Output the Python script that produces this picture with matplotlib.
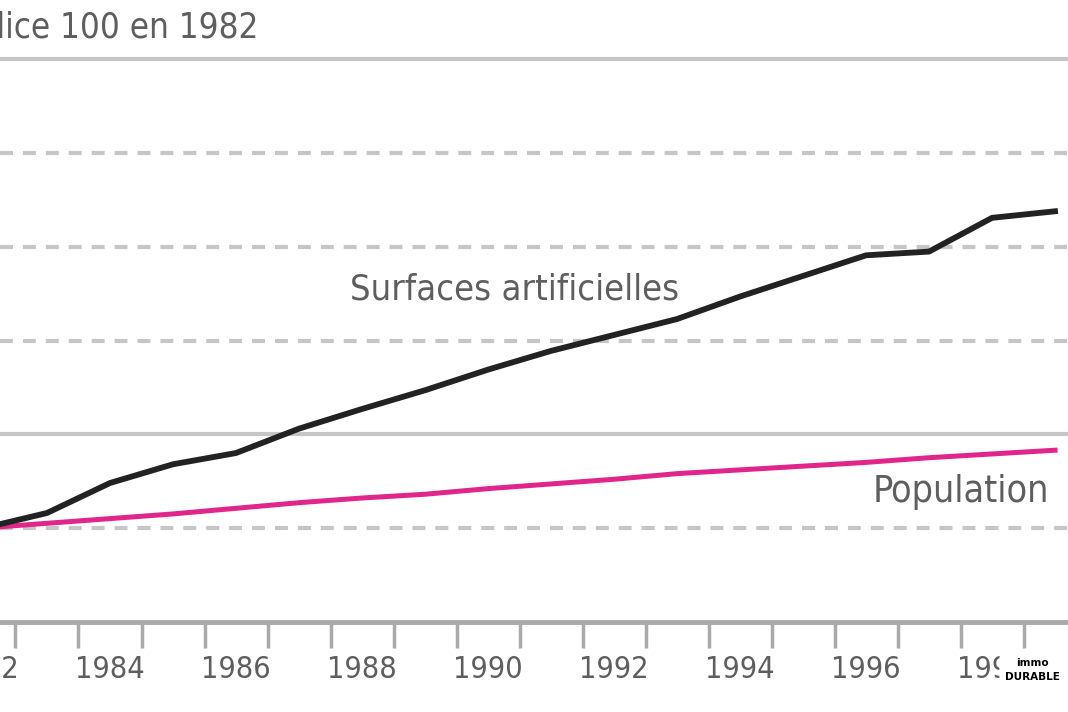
import matplotlib
matplotlib.use("Agg")
import matplotlib.pyplot as plt

# data (index 100 in 1982)
years = list(range(1982, 2000))
surfaces = [100.0, 101.6, 104.8, 106.8, 108.0, 110.6, 112.7, 114.7, 116.9, 118.9,
            120.6, 122.3, 124.7, 126.9, 129.1, 129.5, 133.1, 133.8]
population = [100.0, 100.5, 101.0, 101.5, 102.1, 102.7, 103.2, 103.6, 104.2, 104.7,
              105.2, 105.8, 106.2, 106.6, 107.0, 107.5, 107.9, 108.3]
label_years = list(range(1982, 2000, 2))
solid_levels = [110, 150]
dashed_levels = [100, 120, 130, 140]

plt.rcParams['font.family'] = ['DejaVu Sans']
plt.rcParams['font.stretch'] = 'condensed'

grey_txt = "#5e5e5e"
grid_col = "#c6c6c6"

fig = plt.figure(figsize=(10.68, 7.12), dpi=100)
ax = fig.add_axes([0, 0, 1, 1])

# grid lines
for v in solid_levels:
    ax.axhline(v, color=grid_col, lw=3, zorder=1)
for v in dashed_levels:
    ax.axhline(v, color=grid_col, lw=3, linestyle=(0, (3.1, 2.4)), zorder=1)

# series
ax.plot(years, population, color="#e0268a", lw=3.6, solid_joinstyle="round", zorder=3)
ax.plot(years, surfaces, color="#222222", lw=4.2, solid_joinstyle="round", zorder=4)

ax.text(1987.81, 125.4, "Surfaces artificielles", fontsize=26, color=grey_txt,
        ha="left", va="center")
ax.text(1996.1, 103.8, "Population", fontsize=27, color=grey_txt,
        ha="left", va="center")

# axis: baseline at 90, ticks at year boundaries, labels on even years
for s in ["left", "right", "top"]:
    ax.spines[s].set_visible(False)
ax.spines["bottom"].set_position(("data", 90))
ax.spines["bottom"].set_color("#a9a9a9")
ax.spines["bottom"].set_linewidth(3.5)
ax.set_yticks([])
ax.set_xticks(label_years)
ax.set_xticklabels([str(y) for y in label_years])
ax.set_xticks([y + 0.5 for y in range(1981, 2000)], minor=True)
ax.tick_params(axis="x", which="major", length=0, pad=24, labelsize=22,
               labelcolor=grey_txt)
ax.tick_params(axis="x", which="minor", length=19, width=2.5, color="#a9a9a9",
               direction="out")
ax.set_xlim(1982.254, 1999.206)
ax.set_ylim(80.36, 156.35)

# first year label sits partly outside the view, so place it by hand
ax.annotate(str(label_years[0]), xy=(label_years[0], 90), xytext=(0, -24),
            textcoords="offset points", ha="center", va="top", fontsize=22,
            color=grey_txt, annotation_clip=False)

# title, cut at the left edge like the source
fig.text(258 / 1068, 1 - 27 / 712, "Indice 100 en 1982", fontsize=25,
         color=grey_txt, ha="right", va="center")

# watermark
fig.text(1032 / 1068, 1 - 670 / 712, "immo\nDURABLE", fontsize=7.5,
         fontweight="bold", color="black", ha="center", va="center",
         fontstretch="normal", linespacing=1.4,
         bbox=dict(boxstyle="round,pad=0.5", fc="white", ec="none"))

fig.savefig("out.png", dpi=100)
